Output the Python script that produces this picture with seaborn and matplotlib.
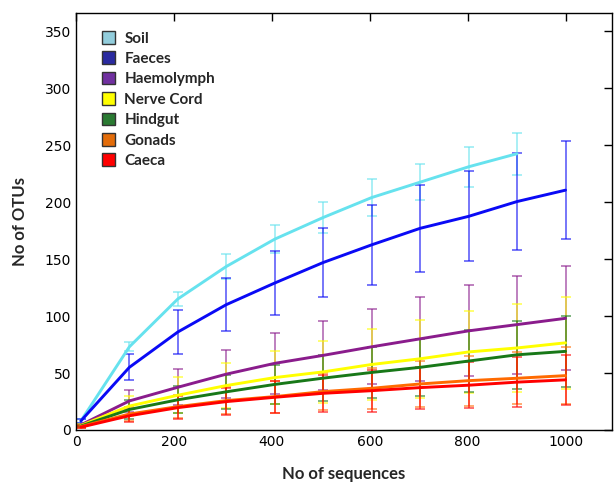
import numpy as np
import pandas as pd
import matplotlib
matplotlib.use("Agg")
import matplotlib.pyplot as plt
import seaborn as sns
from matplotlib.patches import Patch

# rarefaction depths (10 to 1000, step 99)
depths = [10, 109, 208, 307, 406, 505, 604, 703, 802, 901, 1000]

samples = ["Soil", "Faeces", "Haemolymph", "Nerve Cord", "Hindgut", "Gonads", "Caeca"]

# mean observed OTUs per depth (Soil stops at 901)
soil_mean = [8, 73, 115, 143.5, 167.5, 186.5, 204, 217.5, 231, 242.5]
faeces_mean = [8, 55, 86, 110, 129, 147, 162.5, 177, 187.5, 200.5, 210.5]
haemo_mean = [4.5, 25.5, 37.5, 49, 58.5, 65.5, 73, 80, 87, 92.5, 98]
nerve_mean = [4, 21, 30.5, 39, 46, 51, 57.5, 62.5, 68.5, 72, 76.5]
hindgut_mean = [3.5, 18, 26.5, 33.5, 40, 45.5, 50.5, 55, 60.5, 66, 69]
gonads_mean = [3, 14, 20.5, 25.8, 29.3, 33.7, 36.6, 40.4, 43.3, 45.4, 47.7]
caeca_mean = [2.5, 12.5, 19.6, 24.9, 28.7, 32.2, 34.5, 37.2, 39.3, 42, 44]

# standard deviations (error bar half-length)
soil_sd = [2, 4, 6.5, 11, 12.5, 14, 16, 16, 17.5, 18.5]
faeces_sd = [2, 11.5, 19, 23, 28.5, 30.5, 35, 38, 39.5, 42.5, 43]
haemo_sd = [1, 10, 16, 21, 27, 30, 33, 37, 40, 43, 45.5]
nerve_sd = [1, 9, 16, 20, 23.5, 27, 31.5, 34, 36, 38.5, 40.5]
hindgut_sd = [1, 8, 12, 15, 17, 20, 22, 25, 27, 30, 31]
gonads_sd = [1, 6, 10, 12, 14, 16, 18, 20, 22, 23, 25]
caeca_sd = [1, 5.5, 10, 12, 14, 16, 18.5, 18.5, 20, 22, 22]

means = [soil_mean, faeces_mean, haemo_mean, nerve_mean, hindgut_mean, gonads_mean, caeca_mean]
sds = [soil_sd, faeces_sd, haemo_sd, nerve_sd, hindgut_sd, gonads_sd, caeca_sd]

line_colors = {
    "Soil": "#66e2ee",
    "Faeces": "#0a0af5",
    "Haemolymph": "#8a1c8c",
    "Nerve Cord": "#ffff00",
    "Hindgut": "#187818",
    "Gonads": "#ff6a00",
    "Caeca": "#ff0000",
}
patch_colors = {
    "Soil": "#92cddc",
    "Faeces": "#2a2aa0",
    "Haemolymph": "#7030a0",
    "Nerve Cord": "#ffff00",
    "Hindgut": "#2a7a32",
    "Gonads": "#e36c09",
    "Caeca": "#ff0000",
}

rows = []
for name, m in zip(samples, means):
    for d, v in zip(depths, m):
        rows.append({"depth": d, "otus": v, "sample": name})
df = pd.DataFrame(rows)

sns.set_style("white")
plt.rcParams["font.family"] = ["DejaVu Sans"]

fig = plt.figure(figsize=(6.14, 4.84), dpi=100)
ax = fig.add_axes([0.1238, 0.1116, 0.873, 0.8616])

# error bars first
for name, m, s in zip(samples, means, sds):
    ax.errorbar(depths[:len(m)], m, yerr=s, fmt="none", ecolor=line_colors[name],
                elinewidth=1.2, capsize=3.5, capthick=1.2, alpha=0.65, zorder=2)

sns.lineplot(data=df, x="depth", y="otus", hue="sample", hue_order=samples,
             palette=line_colors, linewidth=2.1, legend=False, ax=ax, zorder=3)

ax.set_xlim(0, 1095)
ax.set_ylim(0, 366)
ax.set_xticks([0, 200, 400, 600, 800, 1000])
ax.set_yticks([0, 50, 100, 150, 200, 250, 300, 350])
ax.tick_params(direction="in", top=True, right=True, length=6, width=1,
               labelsize=10, colors="black")
for sp in ax.spines.values():
    sp.set_color("black")
    sp.set_linewidth(1)

ax.set_xlabel("No of sequences", fontsize=12, fontweight="bold", family="Lato", labelpad=12)
ax.set_ylabel("No of OTUs", fontsize=12, fontweight="bold", family="Lato", labelpad=12)

handles = [Patch(facecolor=patch_colors[n], edgecolor="#333333", linewidth=1) for n in samples]
leg = ax.legend(handles, samples, loc="upper left", bbox_to_anchor=(0.022, 0.99),
                frameon=False, handlelength=0.9, handleheight=0.9, handletextpad=0.6,
                labelspacing=0.38, prop={"family": "Lato", "weight": "bold", "size": 11})

fig.savefig("out.png", dpi=100)
